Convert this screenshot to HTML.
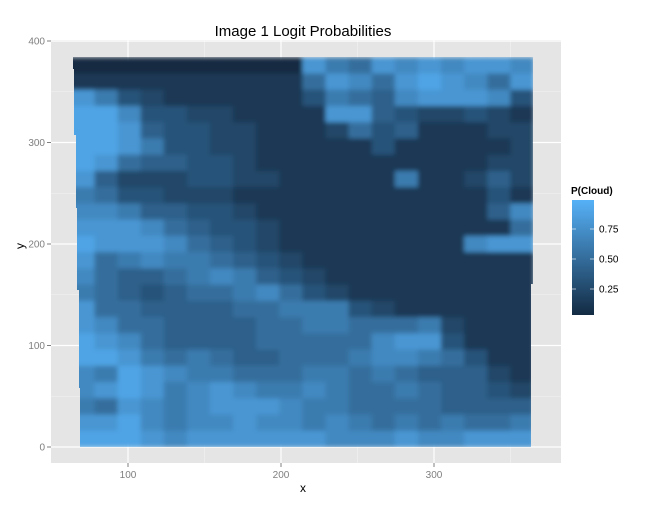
<!DOCTYPE html>
<html><head><meta charset="utf-8"><style>
body{margin:0;background:#fff;}
svg text{font-family:"Liberation Sans",sans-serif;}
</style></head><body>
<svg id="chart" width="655" height="506" xmlns="http://www.w3.org/2000/svg">
<defs>
<filter id="blur" x="0" y="0" width="100%" height="100%"><feGaussianBlur stdDeviation="2.5" edgeMode="duplicate"/></filter>
<clipPath id="dclip"><polygon points="73,57 533,57 533,284 531,284 531,447 80,447 80,388 79,388 79,290 77,290 77,208 76,208 76,135 74,135 74,69 73,69"/></clipPath>
<linearGradient id="lg" x1="0" y1="1" x2="0" y2="0"><stop offset="0" stop-color="#132B43"/><stop offset="1" stop-color="#56B1F7"/></linearGradient>
</defs>
<rect x="51" y="40" width="510" height="423" fill="#E5E5E5"/>
<g id="grid"></g>
<g id="cells" clip-path="url(#dclip)"><g id="cellsInner" filter="url(#blur)"></g></g>
<g id="axes"></g>
<text x="303" y="36" text-anchor="middle" font-size="15">Image 1 Logit Probabilities</text>
<text x="303" y="492" text-anchor="middle" font-size="12">x</text>
<text x="24" y="246" text-anchor="middle" font-size="12" transform="rotate(-90 24 246)">y</text>
<g>
<text x="571" y="194" font-size="10" font-weight="bold">P(Cloud)</text>
<rect x="572" y="200" width="22" height="115" fill="url(#lg)"/>
<g id="legendTicks"></g>
</g>
</svg>
<script>
const xTicks=[100,200,300];
const xMinor=[150,250,350];
const yTicks=[0,100,200,300,400];
const yMinor=[50,150,250,350];
const legendValues=[0.25,0.50,0.75];
const legendLabels=["0.25","0.50","0.75"];
const xStart=63, xStep=15.1, yTop=384, yStep=16;
const gridRows=[
"00000000008658787887",
"11111111115875898758",
"86321111113654788873",
"99733221111884322321",
"99843322111253411122",
"99863322111113111112",
"98544332111111111122",
"84222332211111611242",
"65332221111111111131",
"77644332111111111147",
"88875433211111111115",
"98887543211111111788",
"85676654321111111111",
"75445676432111111111",
"65434556753211111111",
"85544445566632111111",
"87554444556655562111",
"98754444555557883111",
"99865654455567765311",
"76987665556656544421",
"78986787667655654432",
"65876788876655554444",
"88976778776765656556",
"99987888888777877888"
];
const NS='http://www.w3.org/2000/svg';
function xs(v){return 128+1.53*(v-100);}
function ys(v){return 447-1.015*v;}
function col(p){p=p*0.9;const a=[0x13,0x2B,0x43],b=[0x56,0xB1,0xF7];return 'rgb('+a.map((c,i)=>Math.round(c+(b[i]-c)*p)).join(',')+')';}
function mk(tag,attrs,parent){const e=document.createElementNS(NS,tag);for(const k in attrs)e.setAttribute(k,attrs[k]);parent.appendChild(e);return e;}
const grid=document.getElementById('grid');
xMinor.forEach(v=>{const l=mk('line',{x1:xs(v),x2:xs(v),y1:40,y2:463,stroke:'#F2F2F2','stroke-width':0.6},grid);

});
yMinor.forEach(v=>{const l=mk('line',{x1:51,x2:561,y1:ys(v),y2:ys(v),stroke:'#F2F2F2','stroke-width':0.6},grid);

});
xTicks.forEach(v=>{const l=mk('line',{x1:xs(v),x2:xs(v),y1:40,y2:463,stroke:'#fff','stroke-width':1.2},grid);

});
yTicks.forEach(v=>{const l=mk('line',{x1:51,x2:561,y1:ys(v),y2:ys(v),stroke:'#fff','stroke-width':1.2},grid);

});
const nR=gridRows.length,nC=gridRows[0].length;
const ci=document.getElementById('cellsInner');
gridRows.forEach((row,r)=>{for(let c=0;c<nC;c++){const p=(+row[c])/9;
const x0=xs(xStart+c*xStep)-(c===0?10:0),x1=xs(xStart+(c+1)*xStep),y0=ys(yTop-r*yStep),y1=ys(yTop-(r+1)*yStep);
const e=mk('rect',{x:x0,y:y0,width:x1-x0+0.5,height:y1-y0+0.5,fill:col(p)},ci);

}});
const ax=document.getElementById('axes');
xTicks.forEach(v=>{const t=mk('line',{x1:xs(v),x2:xs(v),y1:463,y2:467,stroke:'#7f7f7f'},ax);


const l=mk('text',{x:xs(v),y:478,'text-anchor':'middle','font-size':10,fill:'#7f7f7f'},ax);l.textContent=v;

});
yTicks.forEach(v=>{const t=mk('line',{x1:47,x2:51,y1:ys(v),y2:ys(v),stroke:'#7f7f7f'},ax);


const l=mk('text',{x:45,y:ys(v)+3.5,'text-anchor':'end','font-size':10,fill:'#7f7f7f'},ax);l.textContent=v;

});
const lt=document.getElementById('legendTicks');
legendValues.forEach((v,i)=>{const y=319-120*v;
const a=mk('line',{x1:572,x2:576,y1:y,y2:y,stroke:'#fff','stroke-opacity':0.6},lt);


const b=mk('line',{x1:590,x2:594,y1:y,y2:y,stroke:'#fff','stroke-opacity':0.6},lt);


const t=mk('text',{x:599,y:y+3.5,'font-size':10,fill:'#000'},lt);t.textContent=legendLabels[i];

});
</script>
</body></html>
